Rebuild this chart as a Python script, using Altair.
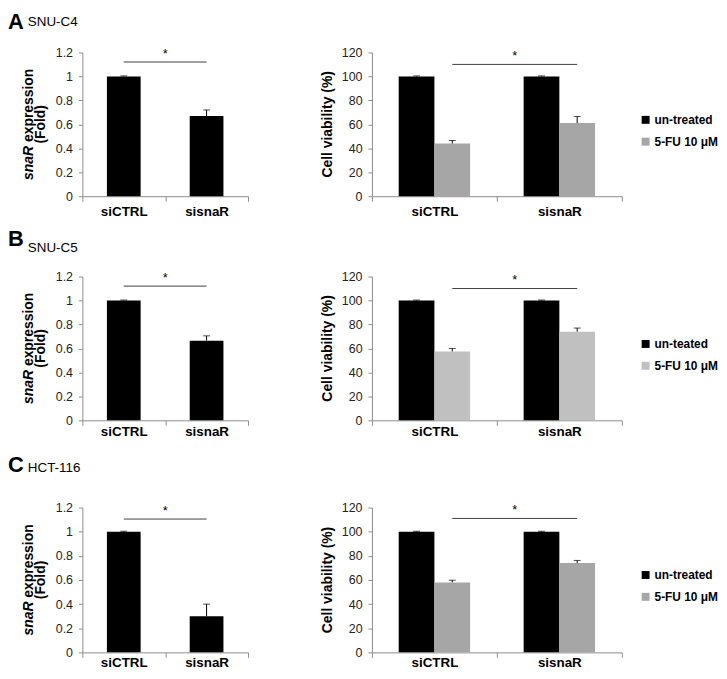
import altair as alt
import pandas as pd

# ---------------- data ----------------
letters = ["A", "B", "C"]
cell_lines = ["SNU-C4", "SNU-C5", "HCT-116"]
groups = ["siCTRL", "sisnaR"]
legend_labels = [
    ["un-treated", "5-FU 10 μM"],
    ["un-teated", "5-FU 10 μM"],
    ["un-treated", "5-FU 10 μM"],
]
expr_mean = [[1.0, 0.67], [1.0, 0.665], [1.0, 0.30]]
expr_err = [[0.004, 0.05], [0.004, 0.04], [0.004, 0.10]]
untreated_mean = [[100, 100], [100, 100], [100, 100]]
untreated_err = [[0.4, 0.4], [0.4, 0.4], [0.4, 0.4]]
fu_mean = [[44, 61], [57.5, 74], [58, 74]]
fu_err = [[2.5, 5.5], [2.5, 3.0], [1.8, 2.2]]
expr_ticks = [0, 0.2, 0.4, 0.6, 0.8, 1.0, 1.2]
via_ticks = [0, 20, 40, 60, 80, 100, 120]
expr_sig = [1.12, 1.12, 1.105]
expr_star = [1.155, 1.155, 1.14]
via_sig = [110, 110, 111]
via_star = [114, 114, 114.5]
star_text = ["*", "*", "*"]
expr_title = ["snaR", "expression", "(Fold)"]
via_title = "Cell viability (%)"

# ---------------- styles / layout ----------------
FONT = "Liberation Sans"
GREY = "#8c8c8c"
grey_fill = ["#a6a6a6", "#c0c0c0", "#a6a6a6"]
heights = [145, 145, 146]
letter_y = [-41, -47.6, -52.6]
holder_y = [-41, -47.6, -58.6]
name_y = [-27, -25, -36]
label_pad = [3, -1, -2]
LW, RW = 167, 252


def x_axis(i):
    return alt.Axis(title=None, labelAngle=0, labelFontSize=13.5, labelFontWeight="bold",
                    labelColor="#000", labelFont=FONT, labelPadding=label_pad[i], tickSize=5,
                    tickColor=GREY, domainColor=GREY, tickBand="extent")


def y_axis(vals, fmt):
    return alt.Axis(values=vals, format=fmt, title=None, grid=False, labelFontSize=12.5,
                    labelColor="#222", labelFont=FONT, labelPadding=6, tickSize=4,
                    tickColor=GREY, domainColor=GREY)


def X(i, **kw):
    return alt.X("group:N", sort=groups, scale=alt.Scale(paddingInner=0, paddingOuter=0),
                 axis=x_axis(i), **kw)


def header_layers(i, visible=True):
    d = pd.DataFrame({"t": [letters[i]], "n": [cell_lines[i]]})
    if not visible:
        return [alt.Chart(d).mark_text(align="left", baseline="top", fontSize=22, fontWeight="bold",
                                       font=FONT, color="#fff").encode(
            x=alt.value(10), y=alt.value(holder_y[i]), text="t:N")]
    let = alt.Chart(d).mark_text(align="left", baseline="top", fontSize=22, fontWeight="bold",
                                 font=FONT, color="#000").encode(
        x=alt.value(-75), y=alt.value(letter_y[i]), text="t:N")
    name = alt.Chart(d).mark_text(align="left", baseline="alphabetic", fontSize=13.5,
                                  font=FONT, color="#000").encode(
        x=alt.value(-55), y=alt.value(name_y[i]), text="n:N")
    return [let, name]


def left_panel(i):
    h = heights[i]
    df = pd.DataFrame({"group": groups, "value": expr_mean[i],
                       "top": [m + e for m, e in zip(expr_mean[i], expr_err[i])]})
    sc = alt.Scale(domain=[0, 1.2], nice=False)
    ya = y_axis(expr_ticks, "~g")
    Y = lambda f: alt.Y(f"{f}:Q", scale=sc, axis=ya)
    base = alt.Chart(df)
    bars = base.mark_bar(width={"band": 34 / 83.5}, color="#000").encode(x=X(i), y=Y("value"))
    err = base.mark_rule(color="#000", strokeWidth=1).encode(x=X(i), y=Y("value"), y2="top:Q")
    cap = base.mark_tick(color="#000", size=7, thickness=1).encode(x=X(i), y=Y("top"))
    sig = alt.Chart(pd.DataFrame({"group": groups, "v": [expr_sig[i]] * 2})).mark_line(
        color="#404040", strokeWidth=1).encode(x=X(i), y=Y("v"))
    star = alt.Chart(pd.DataFrame({"group": ["sisnaR"], "v": [expr_star[i]], "s": [star_text[i]]})).mark_text(
        fontSize=13, font=FONT, baseline="alphabetic", color="#000").encode(
        x=X(i, bandPosition=0), y=Y("v"), text="s:N")
    td = pd.DataFrame({"a": [expr_title[0]], "b": [expr_title[1]], "c": [expr_title[2]]})
    t1 = alt.Chart(td).mark_text(angle=270, align="right", baseline="alphabetic", fontSize=14,
                                 fontWeight="bold", fontStyle="italic", font=FONT, color="#000").encode(
        x=alt.value(-49.5), y=alt.value(h / 2 + 21.8), text="a:N")
    t2 = alt.Chart(td).mark_text(angle=270, align="left", baseline="alphabetic", fontSize=14,
                                 fontWeight="bold", font=FONT, color="#000").encode(
        x=alt.value(-49.5), y=alt.value(h / 2 + 17.8), text="b:N")
    t3 = alt.Chart(td).mark_text(angle=270, align="center", baseline="alphabetic", fontSize=14,
                                 fontWeight="bold", font=FONT, color="#000").encode(
        x=alt.value(-37.5), y=alt.value(h / 2), text="c:N")
    layers = [bars, err, cap, sig, star, t1, t2, t3] + header_layers(i)
    return alt.layer(*layers).properties(width=LW, height=h)


def right_panel(i):
    h = heights[i]
    labs = legend_labels[i]
    rows = []
    for gi, g in enumerate(groups):
        rows.append({"group": g, "treat": labs[0], "value": untreated_mean[i][gi],
                     "top": untreated_mean[i][gi] + untreated_err[i][gi]})
        rows.append({"group": g, "treat": labs[1], "value": fu_mean[i][gi],
                     "top": fu_mean[i][gi] + fu_err[i][gi]})
    df = pd.DataFrame(rows)
    sc = alt.Scale(domain=[0, 120], nice=False)
    ya = y_axis(via_ticks, "d")
    Y = lambda f: alt.Y(f"{f}:Q", scale=sc, axis=ya)
    XO = alt.XOffset("treat:N", sort=labs, scale=alt.Scale(domain=labs, paddingInner=0, paddingOuter=0.75))
    color = alt.Color("treat:N", sort=labs,
                      scale=alt.Scale(domain=labs, range=["#000000", grey_fill[i]]),
                      legend=alt.Legend(title=None, orient="none", legendX=270, legendY=62,
                                        symbolType="square", symbolSize=64, symbolStrokeWidth=0,
                                        labelFontSize=12, labelFontWeight="bold", labelFont=FONT,
                                        labelColor="#000", rowPadding=10, labelOffset=3,
                                        padding=0))
    base = alt.Chart(df)
    bars = base.mark_bar().encode(x=X(i), xOffset=XO, y=Y("value"), color=color)
    err = base.mark_rule(color="#000", strokeWidth=1).encode(x=X(i), xOffset=XO, y=Y("value"), y2="top:Q")
    cap = base.mark_tick(color="#000", size=7, thickness=1).encode(x=X(i), xOffset=XO, y=Y("top"))
    sig = alt.Chart(pd.DataFrame({"group": groups, "treat": [labs[1]] * 2, "v": [via_sig[i]] * 2})).mark_line(
        color="#404040", strokeWidth=1).encode(x=X(i), xOffset=XO, y=Y("v"))
    star = alt.Chart(pd.DataFrame({"group": ["sisnaR"], "v": [via_star[i]], "s": [star_text[i]]})).mark_text(
        fontSize=13, font=FONT, baseline="alphabetic", color="#000").encode(
        x=X(i, bandPosition=0.143), y=Y("v"), text="s:N")
    ttl = alt.Chart(pd.DataFrame({"t": [via_title]})).mark_text(
        angle=270, align="center", baseline="alphabetic", fontSize=14, fontWeight="bold",
        font=FONT, color="#000").encode(x=alt.value(-40), y=alt.value(h / 2), text="t:N")
    layers = [bars, err, cap, sig, star, ttl] + header_layers(i, visible=False)
    return alt.layer(*layers).properties(width=RW, height=h)


rows = [
    alt.hconcat(left_panel(i), right_panel(i), spacing=73)
    .resolve_scale(color="independent", xOffset="independent")
    .resolve_legend(color="independent")
    for i in range(3)
]
chart = (
    alt.vconcat(*rows, spacing=10)
    .resolve_scale(color="independent", xOffset="independent")
    .resolve_legend(color="independent")
    .properties(padding=0, background="white")
    .configure(font=FONT)
    .configure_view(stroke=None)
)
chart.save("out.html", embed_options={"renderer": "svg", "actions": False})
